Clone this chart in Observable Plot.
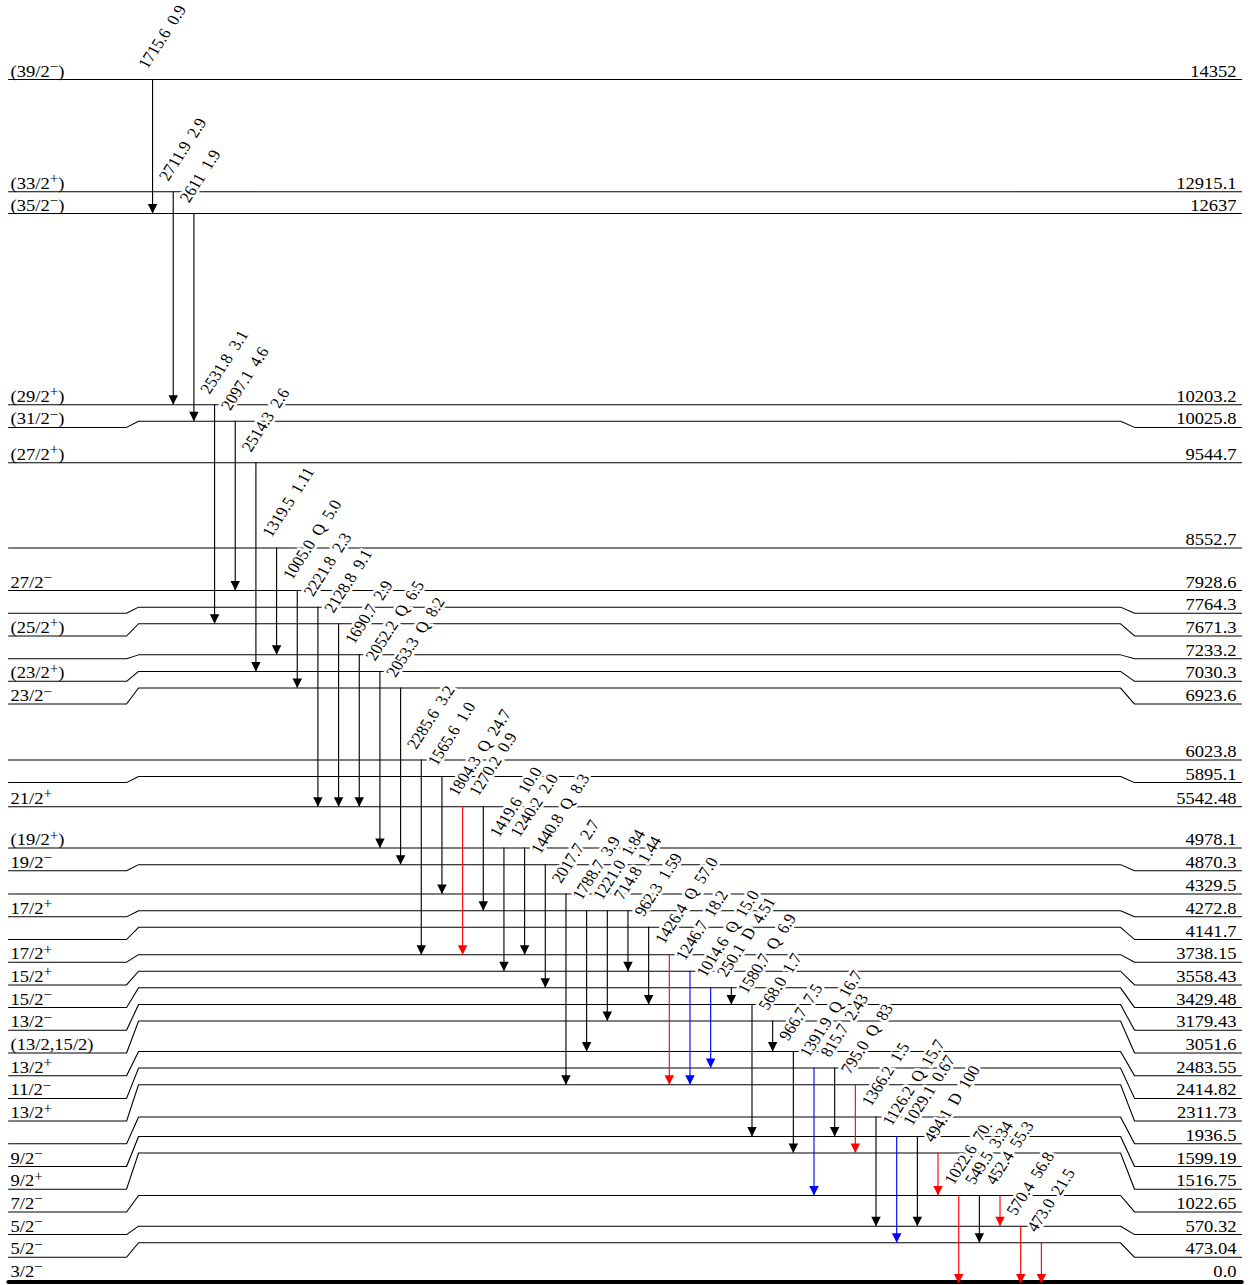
<!DOCTYPE html>
<html>
<head>
<meta charset="utf-8">
<script src="https://cdn.jsdelivr.net/npm/d3@7"></script>
<script src="https://cdn.jsdelivr.net/npm/@observablehq/plot@0.6"></script>
<style>
  html, body { margin: 0; padding: 0; background: #fff; }
  #chart svg { display: block; }
</style>
</head>
<body>
<div id="chart"></div>
<script>
// ---------------- DATA ----------------
// Levels, bottom (ground state) to top
const levelEnergy = ["0.0","473.04","570.32","1022.65","1516.75","1599.19","1936.5","2311.73","2414.82","2483.55",
  "3051.6","3179.43","3429.48","3558.43","3738.15","4141.7","4272.8","4329.5","4870.3","4978.1",
  "5542.48","5895.1","6023.8","6923.6","7030.3","7233.2","7671.3","7764.3","7928.6","8552.7",
  "9544.7","10025.8","10203.2","12637","12915.1","14352"];
const levelSpin = ["3/2−","5/2−","5/2−","7/2−","9/2+","9/2−","","13/2+","11/2−","13/2+",
  "(13/2,15/2)","13/2−","15/2−","15/2+","17/2+","","17/2+","","19/2−","(19/2+)",
  "21/2+","","","23/2−","(23/2+)","","(25/2+)","","27/2−","",
  "(27/2+)","(31/2−)","(29/2+)","(35/2−)","(33/2+)","(39/2−)"];

// Gamma transitions, left to right
const gammaFrom = ["14352","12915.1","12637","10203.2","10025.8","9544.7","8552.7","7928.6","7764.3","7671.3",
  "7233.2","7030.3","6923.6","6023.8","5895.1","5542.48","5542.48","4978.1","4978.1","4870.3",
  "4329.5","4272.8","4272.8","4272.8","4141.7","3738.15","3558.43","3429.48","3429.48","3179.43",
  "3051.6","2483.55","2414.82","2414.82","2311.73","1936.5","1599.19","1599.19","1516.75","1022.65",
  "1022.65","1022.65","570.32","473.04"];
const gammaTo = ["12637","10203.2","10025.8","7671.3","7928.6","7030.3","7233.2","6923.6","5542.48","5542.48",
  "5542.48","4978.1","4870.3","3738.15","4329.5","3738.15","4272.8","3558.43","3738.15","3429.48",
  "2311.73","2483.55","3051.6","3558.43","3179.43","2311.73","2311.73","2414.82","3179.43","1599.19",
  "2483.55","1516.75","1022.65","1599.19","1516.75","570.32","473.04","570.32","1022.65","0.0",
  "473.04","570.32","0.0","0.0"];
const gammaEnergy = ["1715.6","2711.9","2611","2531.8","2097.1","2514.3","1319.5","1005.0","2221.8","2128.8",
  "1690.7","2052.2","2053.3","2285.6","1565.6","1804.3","1270.2","1419.6","1240.2","1440.8",
  "2017.7","1788.7","1221.0","714.8","962.3","1426.4","1246.7","1014.6","250.1","1580.7",
  "568.0","966.7","1391.9","815.7","795.0","1366.2","1126.2","1029.1","494.1","1022.6",
  "549.5","452.4","570.4","473.0"];
const gammaMult = ["","","","","","","","Q","","",
  "","Q","Q","","","Q","","","","Q",
  "","","","","","Q","","Q","D","Q",
  "","","Q","","Q","","Q","","D","",
  "","","",""];
const gammaIntensity = ["0.9","2.9","1.9","3.1","4.6","2.6","1.11","5.0","2.3","9.1",
  "2.9","6.5","8.2","3.2","1.0","24.7","0.9","10.0","2.0","8.3",
  "2.7","3.9","1.84","1.44","1.59","57.0","18.2","15.0","4.51","6.9",
  "1.7","7.5","16.7","2.43","83","1.5","15.7","0.67","100","70.",
  "3.34","55.3","56.8","21.5"];

// ---------------- LAYOUT ----------------
const W = 1251, H = 1285;
const STRETCH = 1.125;             // horizontal stretch of the whole drawing
const W0 = W / STRETCH;
const PX_PER_KEV = 0.0860;         // vertical scale of the main part of the scheme
const BREAK_KEV = 10500;           // above this the scale is compressed to fit
const GROUND_Y = 1283, TOP_Y = 79;
const LEVEL_GAP_PX = 16.6, LABEL_GAP_PX = 22.7;
const LX = {left: 8, leftJog: 126, midStart: 138, midEnd: 1120, rightJog: 1134, right: 1241,
            spinText: 10, energyText: 1236};
const GAMMA_X0 = 152, GAMMA_STEP = 20.67;

const E = levelEnergy.map(Number);
const gapKeV = LEVEL_GAP_PX / PX_PER_KEV;
const labelGapKeV = LABEL_GAP_PX / PX_PER_KEV;

// display position: energy, pushed up to keep a minimum spacing
const disp = [];
E.forEach((e, i) => { disp[i] = i === 0 ? e : Math.max(e, disp[i - 1] + gapKeV); });
// label (side) position: pushed down from the top to keep labels apart
const lab = new Array(E.length);
for (let i = E.length - 1; i >= 0; i--) {
  lab[i] = i === E.length - 1 ? disp[i] : Math.min(disp[i], lab[i + 1] - labelGapKeV);
}
const dMax = d3.max(disp);

const levels = E.map((e, i) => ({i, e, energy: levelEnergy[i], spin: levelSpin[i], disp: disp[i], lab: lab[i]}));
const levelPts = [];
levels.forEach(l => {
  if (l.i === 0) return;
  [[LX.left, l.lab], [LX.leftJog, l.lab], [LX.midStart, l.disp], [LX.midEnd, l.disp],
   [LX.rightJog, l.lab], [LX.right, l.lab]].forEach(([x, y]) => levelPts.push({level: l.i, x, y}));
});
const groundPts = [{x: LX.left, y: disp[0]}, {x: LX.right, y: disp[0]}];

const idx = s => levelEnergy.indexOf(s);
const SEP = "\u2002";
const gammas = gammaEnergy.map((g, i) => {
  const I = +gammaIntensity[i];
  return {
    i,
    x: GAMMA_X0 + i * GAMMA_STEP,
    y1: disp[idx(gammaFrom[i])],
    y2: disp[idx(gammaTo[i])],
    label: [g, gammaMult[i], gammaIntensity[i]].filter(d => d).join(SEP),
    cls: I > 20 ? "strong" : I > 10 ? "medium" : "weak"
  };
});

const arrowHead = {
  draw(ctx) {
    ctx.moveTo(0, 0);
    ctx.lineTo(-4.2, -9.5);
    ctx.lineTo(4.2, -9.5);
    ctx.closePath();
  }
};

const serif = "'Liberation Serif', 'Times New Roman', Times, serif";

const svg = Plot.plot({
  width: W0,
  height: H,
  marginTop: 0, marginBottom: 0, marginLeft: 0, marginRight: 0,
  style: {fontFamily: serif, background: "white", color: "black"},
  x: {domain: [0, W], range: [0, W0], axis: null},
  y: {
    type: "linear",
    domain: [0, BREAK_KEV, dMax],
    range: [GROUND_Y, GROUND_Y - PX_PER_KEV * BREAK_KEV, TOP_Y],
    axis: null
  },
  color: {type: "ordinal", domain: ["weak", "medium", "strong"], range: ["#000000", "#0000ff", "#ff0000"]},
  marks: [
    Plot.line(levelPts, {x: "x", y: "y", z: "level", stroke: "black", strokeWidth: 1}),
    Plot.line(groundPts, {x: "x", y: "y", stroke: "black", strokeWidth: 4, dy: -1.5}),
    Plot.text(gammas, {
      x: "x", y: "y1", text: "label", rotate: -60, textAnchor: "start", lineAnchor: "bottom",
      dx: -5 / STRETCH, dy: -10, fontSize: 15.5, fill: "black",
      stroke: "white", strokeWidth: 5, paintOrder: "stroke", strokeLinejoin: "round"
    }),
    Plot.ruleX(gammas, {x: "x", y1: "y1", y2: "y2", stroke: "cls", strokeWidth: 1}),
    Plot.dot(gammas, {x: "x", y: "y2", symbol: arrowHead, fill: "cls", stroke: "none"}),
    Plot.text(levels.filter(l => l.spin && l.i > 0), {
      x: LX.spinText, y: "lab", text: "spin", textAnchor: "start", lineAnchor: "bottom",
      dy: -3, fontSize: 16.5, fill: "black"
    }),
    Plot.text(levels.filter(l => l.spin && l.i === 0), {
      x: LX.spinText, y: "lab", text: "spin", textAnchor: "start", lineAnchor: "bottom",
      dy: -7, fontSize: 16.5, fill: "black"
    }),
    Plot.text(levels.filter(l => l.i > 0), {
      x: LX.energyText, y: "lab", text: "energy", textAnchor: "end", lineAnchor: "bottom",
      dy: -3, fontSize: 16.5, fill: "black"
    }),
    Plot.text(levels.filter(l => l.i === 0), {
      x: LX.energyText, y: "lab", text: "energy", textAnchor: "end", lineAnchor: "bottom",
      dy: -7, fontSize: 16.5, fill: "black"
    })
  ]
});

// superscript parity signs in spin labels
const NS = "http://www.w3.org/2000/svg";
svg.querySelectorAll("text").forEach(t => {
  const s = t.textContent;
  if (!s.includes("/2") || t.children.length) return;
  const m = s.match(/^(.*?)([+\u2212])(.*)$/);
  if (!m) return;
  t.textContent = "";
  const a = document.createElementNS(NS, "tspan"); a.textContent = m[1]; t.appendChild(a);
  const b = document.createElementNS(NS, "tspan"); b.textContent = m[2];
  b.setAttribute("font-size", "0.82em"); b.setAttribute("dy", "-5.5"); t.appendChild(b);
  if (m[3]) {
    const c = document.createElementNS(NS, "tspan"); c.textContent = m[3];
    c.setAttribute("dy", "5.5"); t.appendChild(c);
  }
});

svg.setAttribute("width", W);
svg.setAttribute("height", H);
svg.setAttribute("viewBox", `0 0 ${W0} ${H}`);
svg.setAttribute("preserveAspectRatio", "none");
svg.style.width = W + "px";
svg.style.height = H + "px";
svg.style.maxWidth = "none";
document.getElementById("chart").appendChild(svg);
</script>
</body>
</html>
